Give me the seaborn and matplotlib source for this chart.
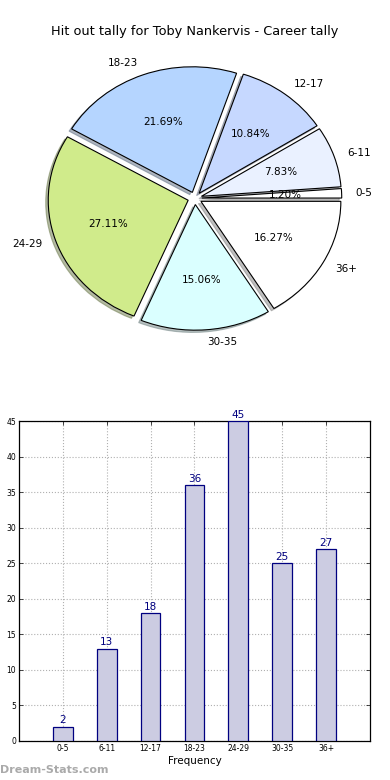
import matplotlib
matplotlib.use("Agg")
import matplotlib.pyplot as plt
import seaborn as sns
import pandas as pd

categories = ["0-5", "6-11", "12-17", "18-23", "24-29", "30-35", "36+"]
values = [2, 13, 18, 36, 45, 25, 27]
pie_colors = ["#ffffff", "#eaf1ff", "#c6d8ff", "#b5d5ff", "#d0eb8b", "#daffff", "#ffffff"]
title = "Hit out tally for Toby Nankervis - Career tally"
yticks = [0, 5, 10, 15, 20, 25, 30, 35, 40, 45]

sns.set_style("white")
plt.rcParams['font.family'] = ['DejaVu Sans']
plt.rcParams['text.color'] = 'black'
plt.rcParams['axes.labelcolor'] = 'black'
plt.rcParams['xtick.color'] = 'black'
plt.rcParams['ytick.color'] = 'black'

fig = plt.figure(figsize=(3.9, 7.8), dpi=100)

# Pie
ax1 = fig.add_axes([0.051, 0.5445, 0.897, 0.4026])
wedges, texts, autotexts = ax1.pie(
    values, labels=categories, colors=pie_colors, explode=[0.05] * len(values),
    autopct="%1.2f%%", shadow={"ox": -0.013, "oy": -0.013, "shade": 0.5},
    startangle=0, counterclock=True,
    wedgeprops=dict(edgecolor="black", linewidth=0.8),
    textprops=dict(fontsize=7.5, color="black"), labeldistance=1.1, pctdistance=0.6)
ax1.set_aspect("auto")
ax1.set_xlim(-1.25, 1.25)
ax1.set_ylim(-1.25, 1.25)
fig.text(0.5, 1 - 31 / 780, title, ha="center", va="center", fontsize=9.3, color="black")

# Bars
ax2 = fig.add_axes([0.0487, 0.05, 0.9, 0.41])
df = pd.DataFrame({"cat": categories, "val": values})
sns.barplot(data=df, x="cat", y="val", ax=ax2, width=0.45, color="#ccccE2",
            saturation=1, edgecolor="navy", linewidth=0.9, zorder=3)
ax2.bar_label(ax2.containers[0], color="navy", fontsize=7.5, padding=1)
ax2.set_xlim(-1, 7)
ax2.set_ylim(0, 45)
ax2.set_yticks(yticks)
ax2.set_xlabel("Frequency", fontsize=7.5, labelpad=2)
ax2.set_ylabel("")
ax2.tick_params(axis="both", labelsize=5.5, direction="in", length=3, width=0.5,
                top=True, right=True, bottom=True, left=True, pad=2)
ax2.grid(True, linestyle=":", color="#b0b0b0", linewidth=0.8, zorder=0)
ax2.set_axisbelow(True)
for s in ax2.spines.values():
    s.set_edgecolor("black")
    s.set_linewidth(0.9)

fig.text(0.0, 1 - 770 / 780, "Dream-Stats.com", ha="left", va="center",
         fontsize=8, color="#aaaaaa", fontweight="bold")

fig.savefig("out.png", dpi=100)
